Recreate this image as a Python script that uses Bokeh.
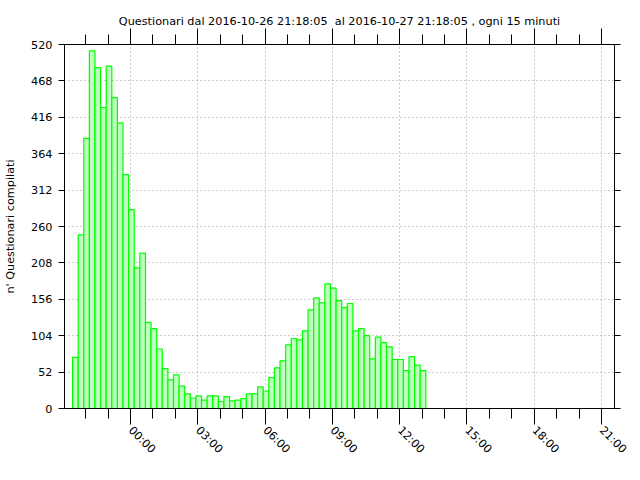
import pandas as pd
from bokeh.plotting import figure
from bokeh.models import Range1d, FixedTicker, LinearAxis, ColumnDataSource, CustomLabelingPolicy
from bokeh.embed import file_html
from bokeh.resources import INLINE

title_text = "Questionari dal 2016-10-26 21:18:05\u00a0 al 2016-10-27 21:18:05 , ogni 15 minuti"
y_label = "n' Questionari compilati"

first_bin = "2016-10-26 21:25"
midnight = "2016-10-27 00:00"
bin_minutes = 15
counts = [73, 248, 386, 511, 487, 430, 489, 444, 408, 334, 284, 201, 222, 123, 114,
          85, 57, 41, 48, 32, 21, 15, 18, 12, 18, 18, 10, 17, 11, 12,
          14, 21, 21, 31, 25, 44, 58, 68, 91, 100, 98, 111, 141, 158, 151,
          178, 172, 154, 144, 150, 111, 114, 104, 71, 102, 94, 88, 70, 70, 54,
          74, 62, 54]

x_tick_hours = [0, 3, 6, 9, 12, 15, 18, 21]
x_tick_labels = ["00:00", "03:00", "06:00", "09:00", "12:00", "15:00", "18:00", "21:00"]
x_minor_hours = list(range(-2, 22))
y_ticks = list(range(0, 521, 52))

times = pd.date_range(first_bin, periods=len(counts), freq=f"{bin_minutes}min")
left = (times - pd.Timestamp(midnight)) / pd.Timedelta(hours=1)
width_h = bin_minutes / 60.0
src = ColumnDataSource(dict(left=list(left), right=list(left + width_h), top=counts,
                            bottom=[0] * len(counts)))

FONT = "DejaVu Sans"
FS = "11.25px"

p = figure(width=640, height=480, output_backend="svg", toolbar_location=None,
           x_range=Range1d(-2.943, 21.58), y_range=Range1d(0, 520),
           x_axis_location=None, y_axis_location=None,
           min_border_left=64, min_border_right=26, min_border_top=44, min_border_bottom=72,
           background_fill_color="white", border_fill_color="white")

p.quad(left="left", right="right", top="top", bottom="bottom", source=src,
       fill_color="#c0ffc0", line_color="#00ff00", line_width=1.2)

xt = FixedTicker(ticks=x_tick_hours, minor_ticks=x_minor_hours)
yt = FixedTicker(ticks=y_ticks, minor_ticks=[])

hide_all = "for (const i of Array.from(indices)) { indices.unset(i) }\nreturn indices"

def style(ax, labels=True):
    ax.axis_line_color = "black"
    ax.major_tick_line_color = "black"
    ax.minor_tick_line_color = "black"
    ax.major_tick_in = 0
    ax.minor_tick_in = 0
    ax.major_label_text_font = FONT
    ax.major_label_text_font_size = FS if labels else "0px"
    ax.major_label_text_color = "black"
    if not labels:
        ax.major_label_standoff = 0
        ax.major_label_policy = CustomLabelingPolicy(code=hide_all)

bx = LinearAxis(ticker=xt, major_label_overrides={h: l for h, l in zip(x_tick_hours, x_tick_labels)})
style(bx)
bx.major_tick_out = 16
bx.minor_tick_out = 10
bx.major_label_orientation = -0.785398
bx.major_label_standoff = 4
p.add_layout(bx, "below")

tx = LinearAxis(ticker=xt)
style(tx, labels=False)
tx.major_tick_out = 16
tx.minor_tick_out = 10
p.add_layout(tx, "above")

ly = LinearAxis(ticker=yt, axis_label=y_label)
style(ly)
ly.major_tick_out = 6
ly.minor_tick_out = 0
ly.major_label_standoff = 6
ly.axis_label_text_font = FONT
ly.axis_label_text_font_size = FS
ly.axis_label_text_font_style = "normal"
ly.axis_label_text_color = "black"
ly.axis_label_standoff = 11
p.add_layout(ly, "left")

ry = LinearAxis(ticker=yt)
style(ry, labels=False)
ry.major_tick_out = 6
ry.minor_tick_out = 0
p.add_layout(ry, "right")

p.xgrid.ticker = xt
p.ygrid.ticker = yt
for g in (p.xgrid, p.ygrid):
    g.grid_line_color = "#9a9a9a"
    g.grid_line_dash = "1 3"
    g.grid_line_width = 1

p.outline_line_color = "black"

p.title.text = title_text
p.title.text_font = FONT
p.title.text_font_size = FS
p.title.text_font_style = "normal"
p.title.text_color = "black"
p.title.align = "center"
p.title.standoff = 2

open("out.html", "w").write(file_html(p, INLINE))
